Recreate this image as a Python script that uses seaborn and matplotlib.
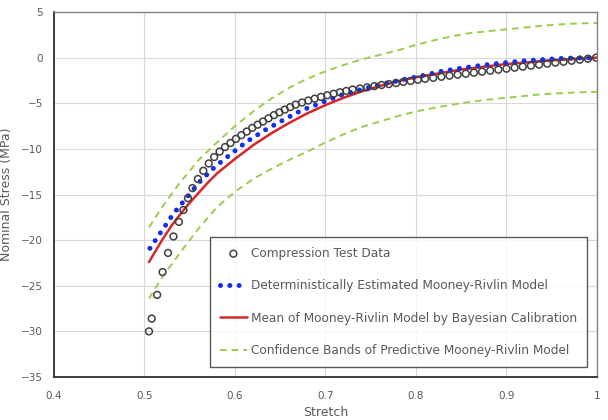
import pandas as pd
import seaborn as sns
import matplotlib.pyplot as plt

# Compression test data (stretch, nominal stress in MPa)
test_stretch = [0.505, 0.508, 0.514, 0.520, 0.526, 0.532, 0.538, 0.543, 0.548, 0.553,
                0.559, 0.565, 0.571, 0.577, 0.583, 0.589, 0.595, 0.601, 0.607, 0.613,
                0.619, 0.625, 0.631, 0.637, 0.643, 0.649, 0.655, 0.661, 0.667, 0.674,
                0.681, 0.688, 0.695, 0.702, 0.709, 0.716, 0.723, 0.730, 0.738, 0.746,
                0.754, 0.762, 0.770, 0.778, 0.786, 0.794, 0.802, 0.810, 0.819, 0.828,
                0.837, 0.846, 0.855, 0.864, 0.873, 0.882, 0.891, 0.900, 0.909, 0.918,
                0.927, 0.936, 0.945, 0.954, 0.963, 0.972, 0.981, 0.990, 0.999]
test_stress = [-30.0, -28.6, -26.0, -23.5, -21.4, -19.6, -18.0, -16.7, -15.4, -14.3,
               -13.3, -12.4, -11.6, -10.9, -10.3, -9.8, -9.35, -8.9, -8.5, -8.1,
               -7.7, -7.35, -7.0, -6.65, -6.3, -6.0, -5.7, -5.42, -5.15, -4.92,
               -4.7, -4.5, -4.3, -4.12, -3.96, -3.8, -3.65, -3.5, -3.38, -3.25,
               -3.12, -3.0, -2.9, -2.78, -2.66, -2.55, -2.43, -2.32, -2.21, -2.1,
               -1.98, -1.87, -1.76, -1.65, -1.54, -1.43, -1.32, -1.21, -1.1, -0.99,
               -0.88, -0.77, -0.66, -0.55, -0.45, -0.34, -0.23, -0.12, 0.0]

# Deterministically estimated Mooney-Rivlin model
det_stretch = [0.506, 0.519, 0.532, 0.547, 0.561, 0.578, 0.595, 0.613, 0.633, 0.653,
               0.673, 0.6955, 0.7175, 0.740, 0.762, 0.784, 0.806, 0.828, 0.850, 0.872,
               0.896, 0.918, 0.942, 0.966, 1.000]
det_stress = [-20.9, -19.0, -17.1, -15.3, -13.6, -11.95, -10.6, -9.2, -7.95, -6.85,
              -5.8, -4.94, -4.1, -3.47, -2.92, -2.45, -2.0, -1.5, -1.15, -0.85,
              -0.58, -0.36, -0.2, -0.06, 0.0]

# Bayesian mean and predictive confidence bands
bay_stretch = [0.505, 0.52, 0.53, 0.54, 0.55, 0.56, 0.57, 0.58, 0.60, 0.62, 0.64, 0.66,
               0.68, 0.70, 0.72, 0.74, 0.76, 0.78, 0.80, 0.85, 0.90, 0.95, 1.00]
bay_mean = [-22.4, -19.9, -18.4, -17.1, -15.9, -14.8, -13.7, -12.7, -11.1, -9.6, -8.3,
            -7.15, -6.1, -5.2, -4.4, -3.7, -3.1, -2.6, -2.15, -1.3, -0.7, -0.3, 0.0]

band_stretch = [0.505, 0.52, 0.54, 0.56, 0.58, 0.60, 0.62, 0.64, 0.66, 0.68, 0.70, 0.72,
                0.74, 0.76, 0.78, 0.80, 0.82, 0.84, 0.86, 0.88, 0.90, 0.92, 0.94, 0.96,
                0.98, 1.00]
band_upper = [-18.6, -16.3, -13.6, -11.2, -9.3, -7.5, -5.9, -4.5, -3.3, -2.3, -1.5, -0.8,
              -0.2, 0.3, 0.8, 1.4, 1.9, 2.35, 2.7, 2.9, 3.1, 3.3, 3.5, 3.65, 3.75, 3.8]
band_lower = [-26.4, -24.0, -21.3, -18.7, -16.4, -14.7, -13.3, -12.2, -11.2, -10.3, -9.3,
              -8.4, -7.6, -7.0, -6.4, -5.9, -5.5, -5.15, -4.85, -4.6, -4.4, -4.2, -4.0,
              -3.9, -3.8, -3.75]

test_df = pd.DataFrame({"Stretch": test_stretch, "Stress": test_stress})
det_df = pd.DataFrame({"Stretch": det_stretch, "Stress": det_stress})
bay_df = pd.DataFrame({"Stretch": bay_stretch, "Stress": bay_mean})
up_df = pd.DataFrame({"Stretch": band_stretch, "Stress": band_upper})
lo_df = pd.DataFrame({"Stretch": band_stretch, "Stress": band_lower})

sns.set_style("whitegrid", {"grid.color": "#d9d9d9", "axes.edgecolor": "#404040"})
plt.rcParams["font.family"] = ["DejaVu Sans"]

fig = plt.figure(figsize=(6.08, 4.20), dpi=100)
ax = fig.add_axes([0.0888, 0.1024, 0.8931, 0.869])

green = "#9acd4c"
sns.lineplot(data=up_df, x="Stretch", y="Stress", ax=ax, color=green, lw=1.4,
             sort=False, zorder=2)
ax.lines[-1].set_dashes([3.5, 2.5])
sns.lineplot(data=lo_df, x="Stretch", y="Stress", ax=ax, color=green, lw=1.4,
             sort=False, zorder=2)
ax.lines[-1].set_dashes([3.5, 2.5])
ax.lines[-1].set_label("Confidence Bands of Predictive Mooney-Rivlin Model")

sns.lineplot(data=bay_df, x="Stretch", y="Stress", ax=ax, color="#d42828", lw=1.8,
             sort=False, zorder=3, label="Mean of Mooney-Rivlin Model by Bayesian Calibration")

sns.lineplot(data=det_df, x="Stretch", y="Stress", ax=ax, color="#1030f0", lw=3.6,
             sort=False, zorder=4, label="Deterministically Estimated Mooney-Rivlin Model")
det_line = ax.lines[-1]
det_line.set_linestyle((0, (0.01, 1.85)))
det_line.set_dash_capstyle("round")

sns.scatterplot(data=test_df, x="Stretch", y="Stress", ax=ax, marker="o", s=24,
                facecolor="none", edgecolor="#404040", linewidth=1.1, zorder=5,
                label="Compression Test Data")

ax.set_xlim(0.4, 1.0)
ax.set_ylim(-35, 5)
ax.set_xticks([0.4, 0.5, 0.6, 0.7, 0.8, 0.9, 1.0])
ax.set_xticklabels(["0.4", "0.5", "0.6", "0.7", "0.8", "0.9", "1"])
ax.set_yticks(range(-35, 6, 5))
ax.tick_params(axis="both", colors="#404040", labelcolor="#595959", labelsize=7.5,
               direction="in", length=3, width=1)
ax.tick_params(axis="x", pad=10)
ax.tick_params(axis="y", pad=8)
for side in ["left", "bottom"]:
    ax.spines[side].set_linewidth(1.3)
    ax.spines[side].set_color("#303030")
for side in ["top", "right"]:
    ax.spines[side].set_linewidth(1.0)
    ax.spines[side].set_color("#808080")

ax.set_xlabel("Stretch", fontsize=9, color="#595959", labelpad=4)
ax.set_ylabel("Nominal Stress (MPa)", fontsize=9, color="#595959", labelpad=6)

handles, labels = ax.get_legend_handles_labels()
order = ["Compression Test Data",
         "Deterministically Estimated Mooney-Rivlin Model",
         "Mean of Mooney-Rivlin Model by Bayesian Calibration",
         "Confidence Bands of Predictive Mooney-Rivlin Model"]
lookup = dict(zip(labels, handles))
leg = ax.legend([lookup[k] for k in order], order, loc="lower left",
                bbox_to_anchor=(0.287, 0.027), fontsize=8.7, frameon=True,
                fancybox=False, edgecolor="#303030", labelspacing=1.6,
                handlelength=2.2, handletextpad=0.35, borderpad=0.85, borderaxespad=0)
leg.get_frame().set_linewidth(1.0)
for t in leg.get_texts():
    t.set_color("#595959")

fig.savefig("out.png", dpi=100)
